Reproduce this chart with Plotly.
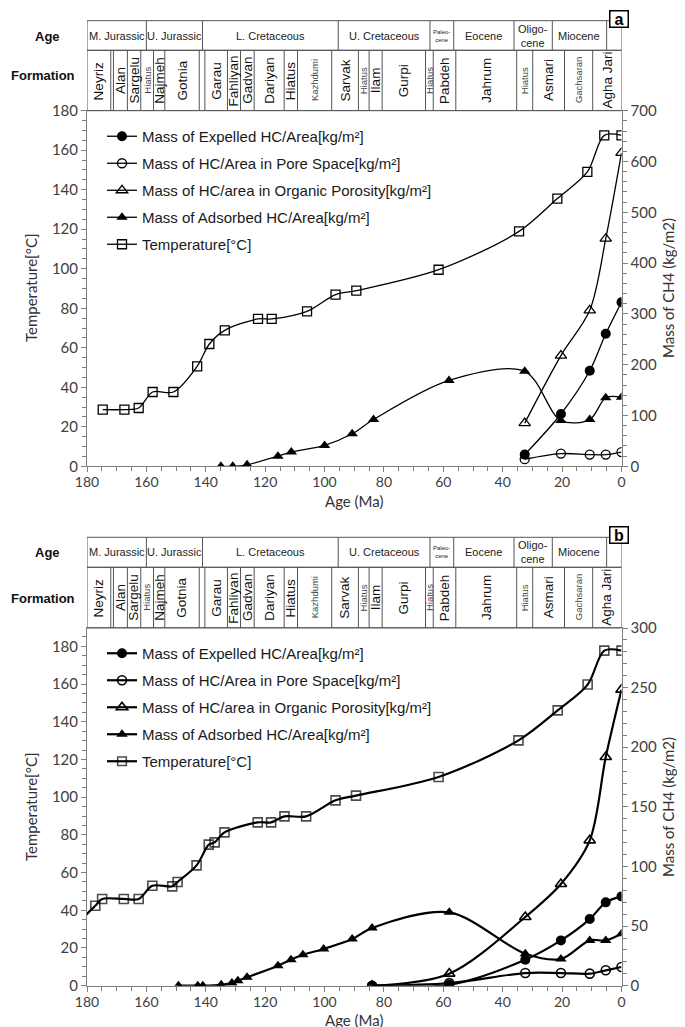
import plotly.graph_objects as go

# ---------------- DATA ----------------
# Panel a
a_temp_age = [174.7, 167.4, 162.6, 157.9, 150.9, 142.9, 138.8, 133.6, 122.4, 117.8, 105.9, 96.3, 89.3, 61.6, 34.5, 21.6, 11.5, 5.8, 0]
a_temp = [28.7, 28.7, 29.5, 37.6, 37.6, 50.6, 61.9, 68.8, 74.6, 74.6, 78.4, 86.9, 88.9, 99.5, 118.9, 135.5, 149.0, 167.5, 167.5]
a_ads_age = [134.9, 130.9, 126.1, 115.7, 111.2, 100.0, 90.7, 83.5, 58.1, 32.6, 20.4, 10.7, 5.3, 0]
a_ads = [0, 0, 3, 20, 28, 41, 64, 92, 169, 187, 90, 92, 135, 136]
a_hc_age = [32.6, 20.4, 10.7, 5.3, 0]
a_exp = [23, 103, 188, 261, 323]
a_pore = [14, 25, 23, 23, 28]
a_org = [85, 218, 307, 448, 617]

# Panel b
b_temp_age = [182.0, 177.2, 174.9, 167.6, 162.6, 158.0, 151.3, 149.5, 143.1, 139.0, 137.0, 133.7, 122.5, 118.0, 113.5, 106.2, 96.3, 89.4, 61.6, 34.7, 21.5, 11.4, 5.8, 0]
b_temp = [35.0, 42.4, 46.0, 46.0, 46.0, 53.0, 52.7, 55.0, 63.8, 74.8, 76.0, 81.3, 86.6, 86.6, 89.8, 89.8, 98.3, 100.8, 110.7, 130.1, 146.0, 159.7, 177.7, 177.7]
b_ads_age = [149.2, 142.7, 141.0, 134.8, 131.2, 129.2, 126.1, 115.7, 111.3, 107.3, 100.3, 90.7, 84.0, 58.0, 32.4, 20.4, 10.7, 5.3, 0]
b_ads = [0, 0, 0, 0.8, 2.2, 4.2, 7.0, 16.8, 21.8, 26.0, 30.8, 39.1, 48.4, 61.5, 26.8, 22.4, 38.0, 38.0, 43.6]
b_hc_age = [84.0, 58.0, 32.4, 20.4, 10.7, 5.3, 0]
b_exp = [0, 0.8, 21.8, 38.0, 55.9, 69.9, 74.9]
b_pore = [0, 2.2, 10.6, 10.6, 10.1, 12.9, 15.7]
b_org = [0, 10.1, 57.6, 85.3, 121.9, 191.8, 248.3]

# Stratigraphic table (ages in Ma)
age_bounds = [180, 160.0, 141.1, 95.4, 64.5, 56.5, 36.2, 23.3, 5.0, 0]
age_labels = ["M. Jurassic", "U. Jurassic", "L. Cretaceous", "U. Cretaceous", "Paleo-<br>cene", "Eocene", "Oligo-<br>cene", "Miocene", ""]
form_bounds = [180, 172.0, 171.1, 166.4, 161.9, 157.6, 153.8, 142.2, 140.3, 132.7, 128.3, 123.7, 113.6, 109.1,
               97.6, 88.6, 85.0, 80.6, 66.0, 63.4, 55.8, 35.3, 29.9, 19.2, 9.7, 0]
form_labels = ["Neyriz", "", "Alan", "Sargelu", "Hiatus", "Najmeh", "Gotnia", "", "Garau", "Fahliyan", "Gadvan",
               "Dariyan", "Hiatus", "Kazhdumi", "Sarvak", "Hiatus", "Ilam", "Gurpi", "Hiatus", "Pabdeh", "Jahrum",
               "Hiatus", "Asmari", "Gachsaran", "Agha Jari"]
form_small = [False, False, False, False, True, False, False, False, False, False, False,
              False, False, True, False, True, False, False, True, False, False,
              True, False, True, False]

left_ticks = list(range(0, 181, 20))

names = ["Mass of Expelled HC/Area[kg/m²]", "Mass of HC/Area in Pore Space[kg/m²]",
         "Mass of HC/area in Organic Porosity[kg/m²]", "Mass of Adsorbed HC/Area[kg/m²]", "Temperature[°C]"]

# ---------------- FIGURE ----------------
W, H = 685, 1027
def PX(x): return x / W
def PY(y): return 1 - y / H

fig = go.Figure()

def add_panel(xa, yl, yr, leg, hc_age, exp, pore, org, ads_age, ads, temp_age, temp, lw, mlw, msz, tsizes=None):
    spec = [
        (hc_age, exp, yr, dict(symbol="circle", size=msz + 1, color="black")),
        (hc_age, pore, yr, dict(symbol="circle-open", size=msz, color="black", line=dict(width=mlw, color="black"))),
        (hc_age, org, yr, dict(symbol="triangle-up-open", size=msz + 1, color="black", line=dict(width=mlw, color="black"))),
        (ads_age, ads, yr, dict(symbol="triangle-up", size=msz + 1, color="black")),
        (temp_age, temp, yl, dict(symbol="square-open", size=tsizes if tsizes else msz, color="black", line=dict(width=mlw, color="black"))),
    ]
    for i, (xs, ys, ya, mk) in enumerate(spec):
        fig.add_trace(go.Scatter(
            x=xs, y=ys, xaxis=xa, yaxis=ya, mode="lines+markers", name=names[i],
            line=dict(color="black", width=lw, shape="spline", smoothing=0.9),
            marker=mk, legend=leg, legendgroup=leg + str(i), showlegend=True))

add_panel("x", "y", "y2", "legend", a_hc_age, a_exp, a_pore, a_org, a_ads_age, a_ads, a_temp_age, a_temp, 1.3, 1.3, 9)
b_sizes = [0] + [9] * (len(b_temp_age) - 1)
add_panel("x2", "y3", "y4", "legend2", b_hc_age, b_exp, b_pore, b_org, b_ads_age, b_ads, b_temp_age, b_temp, 2.2, 1.6, 9, b_sizes)

xd = [PX(79), PX(613.5)]
yd_a = [PY(458.3), PY(102.7)]
yd_b = [PY(977.7), PY(620)]
tickfont = dict(family="Lato, Open Sans, sans-serif", size=14, color="#404040")
axcol = "#7f7f7f"

def xax(anchor, dom):
    return dict(domain=dom, anchor=anchor, range=[180, 0], tick0=0, dtick=20, ticks="outside", ticklen=5,
                tickcolor=axcol, tickfont=tickfont, showline=True, linecolor=axcol, mirror=True,
                showgrid=False, zeroline=False, automargin=False, ticklabelstandoff=-2,
                minor=dict(dtick=5, ticks="outside", ticklen=4, tickcolor=axcol))

def yax(anchor, dom, rng, dt, mdt, side="left", overlay=None, tickvals=None):
    d = dict(anchor=anchor, range=rng, dtick=dt, tick0=0, ticks="outside", ticklen=5, tickcolor=axcol,
             tickfont=dict(tickfont, size=15), showline=True, linecolor=axcol, showgrid=False, zeroline=False,
             side=side, automargin=False,
             minor=dict(dtick=mdt, ticks="outside", ticklen=4, tickcolor=axcol))
    if overlay:
        d["overlaying"] = overlay
    else:
        d["domain"] = dom
    if tickvals:
        d["tickvals"] = tickvals
    return d

legfont = dict(family="Liberation Sans, Arial, sans-serif", size=15, color="#1a1a1a")
fig.update_layout(
    width=W, height=H, margin=dict(l=0, r=0, t=0, b=0),
    paper_bgcolor="white", plot_bgcolor="white",
    xaxis=xax("y", xd), yaxis=yax("x", yd_a, [0, 180], 20, 5, tickvals=left_ticks),
    yaxis2=yax("x", None, [0, 700], 100, 20, side="right", overlay="y"),
    xaxis2=xax("y3", xd), yaxis3=yax("x2", yd_b, [0, 189.7], 20, 5, tickvals=left_ticks),
    yaxis4=yax("x2", None, [0, 300], 50, 10, side="right", overlay="y3"),
    legend=dict(x=PX(94), y=PY(112), xanchor="left", yanchor="top", font=legfont,
                bgcolor="rgba(0,0,0,0)", tracegroupgap=4.5, itemwidth=30),
    legend2=dict(x=PX(94), y=PY(629), xanchor="left", yanchor="top", font=legfont,
                 bgcolor="rgba(0,0,0,0)", tracegroupgap=4.5, itemwidth=30),
    showlegend=True,
)

shapes = []
annotations = []
tfont = "Liberation Sans, Arial, sans-serif"
lc = "#555555"

def ann(**kw):
    kw.setdefault("showarrow", False)
    kw.setdefault("xanchor", "center")
    kw.setdefault("yanchor", "middle")
    annotations.append(kw)

def table(xref, top, mid, bot, letter, age_y, form_y):
    t, m, b = PY(top), PY(mid), PY(bot)
    shapes.append(dict(type="rect", xref=xref, yref="paper", x0=age_bounds[0], x1=age_bounds[-1], y0=m, y1=t,
                       line=dict(color=lc, width=1)))
    shapes.append(dict(type="rect", xref=xref, yref="paper", x0=form_bounds[0], x1=form_bounds[-1], y0=b, y1=m,
                       line=dict(color=lc, width=1)))
    for v in age_bounds[1:-1]:
        shapes.append(dict(type="line", xref=xref, yref="paper", x0=v, x1=v, y0=m, y1=t, line=dict(color=lc, width=1)))
    for v in form_bounds[1:-1]:
        shapes.append(dict(type="line", xref=xref, yref="paper", x0=v, x1=v, y0=b, y1=m, line=dict(color=lc, width=1)))
    for i, lab in enumerate(age_labels):
        if not lab:
            continue
        c = (age_bounds[i] + age_bounds[i + 1]) / 2
        sz = 11
        if lab.startswith("Paleo"):
            sz = 6
        ann(x=c, y=(t + m) / 2, xref=xref, yref="paper", text=lab,
            font=dict(family=tfont, size=sz, color="#222"))
    for i, lab in enumerate(form_labels):
        if not lab:
            continue
        c = (form_bounds[i] + form_bounds[i + 1]) / 2
        small = form_small[i]
        ann(x=c, y=(m + b) / 2, xref=xref, yref="paper", text=lab, textangle=-90,
            font=dict(family=tfont, size=9.5 if small else 13.5, color="#444" if small else "#111"))
    ann(x=PX(39), y=PY(age_y), xref="paper", yref="paper", text="<b>Age</b>",
        font=dict(family=tfont, size=13, color="#111"))
    ann(x=PX(35), y=PY(form_y), xref="paper", yref="paper", text="<b>Formation</b>",
        font=dict(family=tfont, size=13, color="#111"))
    ann(x=PX(611), y=PY(top - 2), xref="paper", yref="paper", text="<b>" + letter + "</b>",
        font=dict(family=tfont, size=16, color="black"),
        bgcolor="white", bordercolor="black", borderwidth=1.5, borderpad=0, width=17, height=15)

table("x", 12.7, 42.3, 102.7, "a", 28, 68)
table("x2", 529.3, 559.3, 620, "b", 544, 590)

titlefont = dict(family="Lato, Open Sans, sans-serif", size=15, color="#333")
for (ly, xy) in [(280, 493), (799, 1012)]:
    ann(x=PX(23), y=PY(ly), xref="paper", yref="paper", text="Temperature[°C]", textangle=-90, font=titlefont)
    ann(x=PX(660), y=PY(ly), xref="paper", yref="paper", text="Mass of CH4 (kg/m2)", textangle=-90, font=titlefont)
    ann(x=PX(346), y=PY(xy), xref="paper", yref="paper", text="Age (Ma)", font=titlefont)

fig.update_layout(shapes=shapes, annotations=annotations)
fig.write_html("out.html")
